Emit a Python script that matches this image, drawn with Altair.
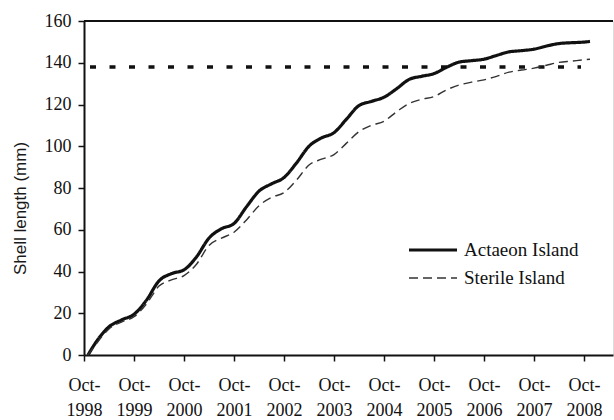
import altair as alt
import pandas as pd

# time in years since Oct-1998
t = [0.08, 0.25, 0.5, 0.75, 1.0, 1.25, 1.5, 1.75, 2.0, 2.25, 2.5, 2.75, 3.0,
     3.25, 3.5, 3.75, 4.0, 4.25, 4.5, 4.75, 5.0, 5.25, 5.5, 5.75, 6.0, 6.25,
     6.5, 6.75, 7.0, 7.25, 7.5, 7.75, 8.0, 8.25, 8.5, 8.75, 9.0, 9.25, 9.5,
     9.75, 10.0, 10.12]
actaeon = [0, 6.5, 13.5, 16.8, 19.5, 26.3, 35.5, 39.0, 40.8, 47.0, 56.0, 60.5,
           63.0, 71.0, 78.5, 82.0, 85.0, 92.0, 100.0, 104.0, 106.5, 113.0, 119.5,
           121.5, 123.5, 127.5, 132.0, 133.5, 134.8, 137.8, 140.3, 141.0, 141.7,
           143.5, 145.2, 145.8, 146.5, 148.0, 149.2, 149.6, 149.9, 150.2]
sterile = [0, 5.5, 12.5, 15.8, 18.3, 24.5, 33.0, 36.0, 38.0, 43.5, 52.5, 56.0,
           58.8, 64.7, 71.5, 75.5, 77.8, 83.8, 91.0, 93.8, 96.0, 101.5, 107.0,
           110.0, 112.0, 116.5, 120.5, 122.5, 123.8, 127.0, 129.3, 130.7, 131.8,
           133.5, 135.5, 136.5, 137.4, 138.8, 140.2, 140.8, 141.4, 141.7]
sites = ["Actaeon Island", "Sterile Island"]
tick_years = list(range(0, 11))
y_ticks = [0, 20, 40, 60, 80, 100, 120, 140, 160]
ref_level = 138
ref_span = [0.12, 9.94]
top_level = 160

rows = []
for ti, a, s in zip(t, actaeon, sterile):
    rows.append({"t": ti, "v": a, "site": sites[0]})
    rows.append({"t": ti, "v": s, "site": sites[1]})
df = pd.DataFrame(rows)
ref_df = pd.DataFrame({"t": ref_span, "v": [ref_level] * len(ref_span)})
top_df = pd.DataFrame({"v": [top_level]})

x_scale = alt.Scale(domain=[0, 10.58], nice=False, zero=False)
y_scale = alt.Scale(domain=[0, 160], nice=False)

serif = "Liberation Serif"
leg = alt.Legend(title=None, orient="none", legendX=323, legendY=219,
                 symbolType="stroke", symbolSize=2304, clipHeight=20,
                 rowPadding=8, labelFont=serif, labelFontSize=19,
                 labelColor="#111111", labelOffset=5, labelLimit=300)

x_axis = alt.Axis(values=tick_years, title=None,
                  labelExpr='["Oct-", toString(1998 + datum.value)]',
                  labelFont=serif, labelFontSize=18, labelColor="#111111",
                  labelLineHeight=25, labelPadding=15, labelBaseline="top",
                  tickSize=6, tickWidth=1.5, tickColor="#111111",
                  domainColor="#111111", domainWidth=2, grid=False,
                  labelFlush=False, labelOverlap=False)
y_axis = alt.Axis(values=y_ticks, title="Shell length (mm)",
                  titleFont="Liberation Sans", titleFontSize=17,
                  titleFontWeight="normal", titleColor="#1a1a1a",
                  titleX=-64, titleY=187, titleAngle=-90, titleAlign="center",
                  titleBaseline="middle",
                  labelFont=serif, labelFontSize=18, labelColor="#111111",
                  labelPadding=7, tickSize=6, tickWidth=1.5, tickColor="#111111",
                  domainColor="#111111", domainWidth=2, grid=False)

lines = alt.Chart(df).mark_line(interpolate="monotone").encode(
    x=alt.X("t:Q", scale=x_scale, axis=x_axis),
    y=alt.Y("v:Q", scale=y_scale, axis=y_axis),
    color=alt.Color("site:N", scale=alt.Scale(domain=sites, range=["#111111", "#333333"]), legend=leg),
    strokeDash=alt.StrokeDash("site:N", scale=alt.Scale(domain=sites, range=[[1, 0], [9, 5]]), legend=leg),
    strokeWidth=alt.StrokeWidth("site:N", scale=alt.Scale(domain=sites, range=[3.2, 1.4]), legend=leg),
)

ref = alt.Chart(ref_df).mark_line(color="#111111", strokeWidth=3.5, strokeDash=[6, 13.5]).encode(
    x=alt.X("t:Q", scale=x_scale),
    y=alt.Y("v:Q", scale=y_scale),
)

top = alt.Chart(top_df).mark_rule(color="#111111", strokeWidth=2).encode(
    y=alt.Y("v:Q", scale=y_scale)
)

chart = alt.layer(top, ref, lines).properties(
    width=529, height=334,
    padding={"left": 84, "top": 21, "right": 1, "bottom": 65},
    autosize=alt.AutoSizeParams(type="none"),
).configure_view(stroke=None).configure(background="white")

chart.save("out.html", embed_options={"renderer": "svg", "actions": False})
